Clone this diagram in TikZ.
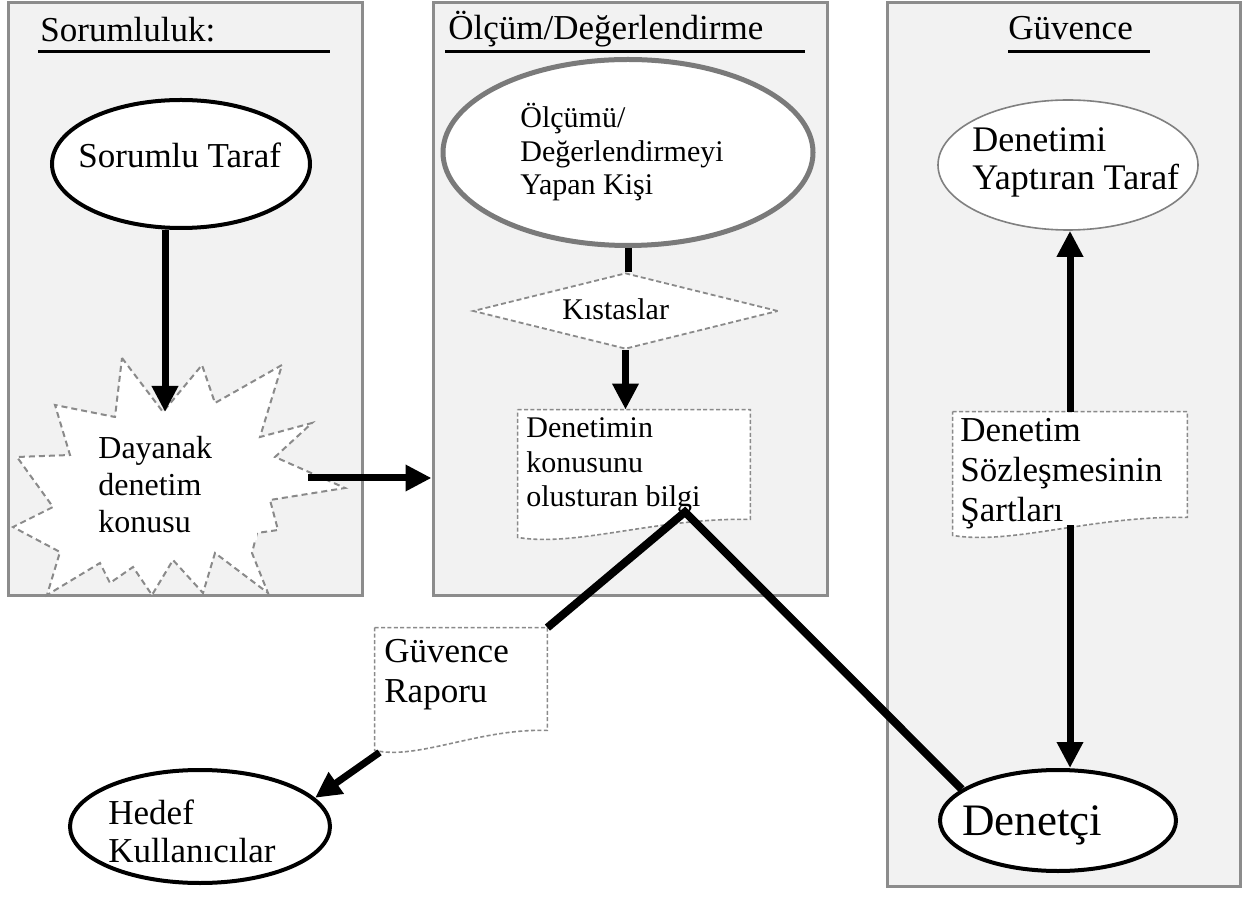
\documentclass[tikz,border=0pt]{standalone}
\usepackage{fontspec}
\setmainfont{Liberation Serif}
\usetikzlibrary{shapes.geometric,arrows.meta,calc}
\definecolor{panelfill}{HTML}{F2F2F2}
\definecolor{paneldraw}{HTML}{8C8C8C}
\definecolor{dashgray}{HTML}{8A8A8A}
\definecolor{ellgray}{HTML}{7A7A7A}
\newcommand\docshape[2]{%
  \draw[docline] (#1.north west) -- (#1.north east) -- ($(#1.south east)+(0,-#2)$)
    .. controls ($(#1.south west)!0.6!(#1.south east)+(0,-#2-2)$) and ($(#1.south west)!0.25!(#1.south east)+(0,10)$)
    .. (#1.south west) -- cycle;}
\begin{document}
\begin{tikzpicture}[x=0.5pt,y=-0.5pt,
  panel/.style={draw=paneldraw, fill=panelfill, line width=1.5pt, inner sep=0pt},
  title/.style={anchor=base west, inner sep=0pt, font=\fontsize{17.5pt}{20pt}\selectfont},
  uline/.style={line width=1.5pt, black},
  txt/.style={anchor=north west, inner sep=0pt, align=left},
  onetxt/.style={anchor=base west, inner sep=0pt},
  ell/.style={ellipse, inner sep=0pt, fill=white},
  stardash/.style={draw=dashgray, line width=1pt, dash pattern=on 3pt off 2pt, fill=white},
  docline/.style={draw=dashgray, line width=0.8pt, dash pattern=on 2pt off 1.2pt, fill=white},
  docbox/.style={rectangle, inner sep=0pt},
  arr/.style={line width=3.5pt, -{Triangle[width=12.5pt,length=13pt]}},
  vline/.style={line width=4pt}
]
\useasboundingbox (0,0) rectangle (1242,897);

% panels
\node[panel, minimum width=177pt, minimum height=296.5pt] (p1) at (185,299.5) {};
\node[panel, minimum width=197pt, minimum height=296.5pt] (p2) at (630,299.5) {};
\node[panel, minimum width=176.5pt, minimum height=441.5pt] (p3) at (1063.5,444.5) {};

% titles
\node[title] (t1) at (40,42) {Sorumluluk:};
\node[title] (t2) at (448,40) {Ölçüm/Değerlendirme};
\node[title] (t3) at (1008,40) {Güvence};
\draw[uline] (38,52) -- (330,52);
\draw[uline] (445,52) -- (805,52);
\draw[uline] (1008,52) -- (1150,52);

% starburst
\draw[stardash] (122,358) -- (163,412) -- (202,365) -- (215,403) -- (282,365) -- (260,437)
  -- (312,423) -- (275,457) -- (345,488) -- (270,500) -- (278,530) -- (257,533) -- (252,553)
  -- (268,593) -- (215,553) -- (203,593) -- (173,560) -- (152,595) -- (133,567) -- (110,583)
  -- (100,563) -- (47,595) -- (60,552) -- (13,527) -- (53,507) -- (17,457) -- (70,455)
  -- (55,405) -- (115,417) -- cycle;
\fill[white] (77,418) rectangle (257,540);
\node[txt, font=\fontsize{16pt}{18.5pt}\selectfont] (dayT) at (98,436) {Dayanak\\denetim\\konusu};
\coordinate (stin) at (165,412);
\coordinate (dr) at (308,478);

% ellipses
\node[ell, draw=black, line width=2pt, minimum width=129pt, minimum height=64pt] (st) at (181,164) {};
\node[onetxt, font=\fontsize{17.5pt}{20pt}\selectfont] (stT) at (78,168) {Sorumlu Taraf};

\node[ell, draw=ellgray, line width=2.5pt, minimum width=185pt, minimum height=93pt] (olc) at (628,152.5) {};
\node[txt, font=\fontsize{15pt}{16.75pt}\selectfont] (olcT) at (520,103) {Ölçümü/\\Değerlendirmeyi\\Yapan Kişi};

\node[ell, draw=gray, line width=0.8pt, minimum width=130pt, minimum height=65pt] (dyt) at (1068,165) {};
\node[txt, font=\fontsize{18pt}{19pt}\selectfont] (dytT) at (972,127) {Denetimi\\Yaptıran Taraf};

\node[ell, draw=black, line width=2pt, minimum width=130pt, minimum height=56.5pt] (hed) at (200,826.5) {};
\node[txt, font=\fontsize{17.5pt}{19pt}\selectfont] (hedT) at (108,799) {Hedef\\Kullanıcılar};

\node[ell, draw=black, line width=2pt, minimum width=118pt, minimum height=50.5pt] (den) at (1058,820.5) {};
\node[onetxt, font=\fontsize{22.5pt}{26pt}\selectfont] (denT) at (962,835) {Denetçi};

% diamond
\node[diamond, inner sep=0pt, draw=dashgray, line width=0.9pt, dash pattern=on 2.5pt off 1.5pt, fill=white,
  minimum width=152.5pt, minimum height=38pt] (kst) at (625.5,311) {};
\node[onetxt, font=\fontsize{15pt}{17pt}\selectfont] (kstT) at (562,320) {Kıstaslar};

% documents
\node[docbox, minimum width=116pt, minimum height=63.5pt] (bil) at (634,473.5) {};
\docshape{bil}{18}
\node[txt, font=\fontsize{15pt}{17.25pt}\selectfont] (bilT) at (526,417.5) {Denetimin\\konusunu\\olusturan bilgi};

\node[docbox, minimum width=117pt, minimum height=61.5pt] (soz) at (1070,473.5) {};
\docshape{soz}{18}
\node[txt, font=\fontsize{17.5pt}{20pt}\selectfont] (sozT) at (960,418) {Denetim\\Sözleşmesinin\\Şartları};

\node[docbox, minimum width=86pt, minimum height=61pt] (gr) at (461,689) {};
\docshape{gr}{20}
\node[txt, font=\fontsize{17.5pt}{20pt}\selectfont] (grT) at (384,639) {Güvence\\Raporu};

% connectors
\draw[arr] (stin |- st.south) -- (stin);
\draw[arr] (dr) -- (dr -| p2.west);
\draw[line width=3.5pt] (olc.south) -- (olc.south |- kst.north);
\draw[arr] (kst.south) -- (kst.south |- bil.north);
\coordinate (vt) at (685,512);
\draw[vline] (gr.north east) -- (vt) -- (den.162);
\draw[arr] ($(gr.south west)+(5,2)$) -- (hed.14);
\draw[arr] (soz.north) -- (soz.north |- dyt.south);
\draw[arr] ($(soz.south)+(0,-10)$) -- (soz.south |- den.north);
\end{tikzpicture}
\end{document}
